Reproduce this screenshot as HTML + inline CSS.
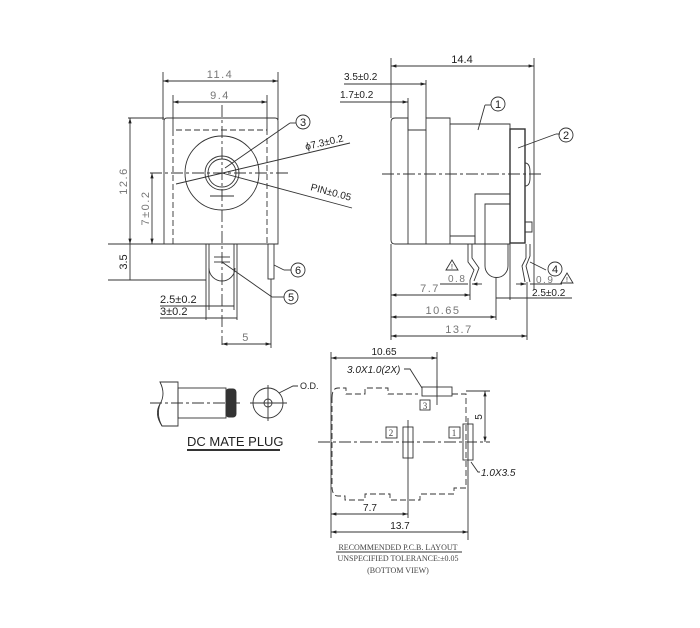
<!DOCTYPE html>
<html><head><meta charset="utf-8"><style>
html,body{margin:0;padding:0;background:#fff}
svg{display:block}
text{font-family:"Liberation Sans",sans-serif;fill:#222;stroke:none}
.m{fill:#777;letter-spacing:1.5px}
.s{font-family:"Liberation Serif",serif;fill:#444}
</style></head><body>
<svg width="700" height="628" viewBox="0 0 700 628" xmlns="http://www.w3.org/2000/svg" stroke="#333" fill="none" stroke-width="0.9">
<defs>
<marker id="a" viewBox="0 0 10 10" refX="10" refY="5" markerWidth="6" markerHeight="6" orient="auto-start-reverse"><path d="M0,2 L10,5 L0,8 z" fill="#222" stroke="none"/></marker>
</defs>
<!-- FRONT VIEW -->
<g>
<line x1="163" y1="72" x2="163" y2="120"/><line x1="278" y1="72" x2="278" y2="120"/>
<line x1="163" y1="81" x2="278" y2="81" marker-start="url(#a)" marker-end="url(#a)"/>
<text x="220" y="78" font-size="11" text-anchor="middle" class="m">11.4</text>
<line x1="173" y1="95" x2="173" y2="130"/><line x1="267" y1="95" x2="267" y2="130"/>
<line x1="173" y1="102" x2="267" y2="102" marker-start="url(#a)" marker-end="url(#a)"/>
<text x="220" y="99" font-size="11" text-anchor="middle" class="m">9.4</text>
<path d="M167,118 H275 Q278,118 278,121 V244 H164 V121 Q164,118 167,118 Z"/>
<path d="M173,244 V130 H267 V244" stroke-dasharray="6,3"/>
<circle cx="222" cy="173" r="37"/>
<circle cx="222" cy="173" r="17"/>
<circle cx="222" cy="173" r="14"/>
<line x1="210" y1="196" x2="234" y2="196"/>
<line x1="150" y1="173" x2="290" y2="173" stroke-dasharray="12,3,3,3"/>
<line x1="222" y1="105" x2="222" y2="345" stroke-dasharray="12,3,3,3"/>
<line x1="176" y1="184" x2="350" y2="143"/>
<text x="306" y="150" font-size="10" transform="rotate(-13 306 150)">ϕ7.3±0.2</text>
<line x1="222" y1="173" x2="352" y2="208"/>
<text x="310" y="190" font-size="10" transform="rotate(15 310 190)">PIN±0.05</text>
<line x1="225" y1="168" x2="290" y2="123"/><line x1="290" y1="123" x2="296" y2="123"/>
<circle cx="303" cy="122" r="7"/><text x="303" y="126" font-size="11" text-anchor="middle">3</text>
<!-- pins -->
<line x1="206" y1="244" x2="206" y2="280"/><line x1="209" y1="244" x2="209" y2="270"/>
<line x1="237" y1="244" x2="237" y2="280"/><line x1="234" y1="244" x2="234" y2="270"/>
<path d="M209,268 A13,13 0 0 0 235,268"/>
<line x1="214" y1="257" x2="230" y2="257"/><line x1="214" y1="262" x2="230" y2="262"/>
<rect x="268" y="244" width="6" height="35"/>
<line x1="274" y1="265" x2="284" y2="270"/><line x1="284" y1="270" x2="291" y2="270"/>
<circle cx="298" cy="270" r="7"/><text x="298" y="274" font-size="11" text-anchor="middle">6</text>
<line x1="222" y1="262" x2="272" y2="297"/><line x1="272" y1="297" x2="284" y2="297"/>
<circle cx="291" cy="297" r="7"/><text x="291" y="301" font-size="11" text-anchor="middle">5</text>
<!-- left dims -->
<line x1="128" y1="118" x2="164" y2="118"/><line x1="108" y1="244" x2="164" y2="244"/><line x1="108" y1="280" x2="206" y2="280"/>
<line x1="130" y1="118" x2="130" y2="244" marker-start="url(#a)" marker-end="url(#a)"/>
<text x="127" y="181" font-size="11" class="m" text-anchor="middle" transform="rotate(-90 127 181)">12.6</text>
<line x1="130" y1="244" x2="130" y2="280"/>
<text x="127" y="262" font-size="11" text-anchor="middle" transform="rotate(-90 127 262)">3.5</text>
<line x1="152" y1="173" x2="152" y2="244" marker-start="url(#a)" marker-end="url(#a)"/>
<text x="149" y="208" font-size="11" class="m" text-anchor="middle" transform="rotate(-90 149 208)">7±0.2</text>
<!-- bottom dims -->
<line x1="206" y1="280" x2="206" y2="320"/><line x1="237" y1="280" x2="237" y2="320"/>
<line x1="209" y1="270" x2="209" y2="310"/><line x1="234" y1="270" x2="234" y2="310"/>
<line x1="160" y1="306" x2="234" y2="306"/><text x="160" y="303" font-size="11">2.5±0.2</text>
<line x1="160" y1="318" x2="237" y2="318"/><text x="160" y="315" font-size="11">3±0.2</text>
<line x1="271" y1="279" x2="271" y2="348"/>
<line x1="222" y1="344" x2="271" y2="344" marker-start="url(#a)" marker-end="url(#a)"/>
<text x="246" y="341" font-size="11" class="m" text-anchor="middle">5</text>
</g>
<!-- SIDE VIEW -->
<g>
<line x1="391" y1="58" x2="391" y2="118"/><line x1="534" y1="58" x2="534" y2="290"/>
<line x1="391" y1="66" x2="534" y2="66" marker-start="url(#a)" marker-end="url(#a)"/>
<text x="462" y="63" font-size="11" text-anchor="middle">14.4</text>
<line x1="344" y1="84" x2="426" y2="84" marker-end="url(#a)"/><line x1="426" y1="80" x2="426" y2="118"/>
<text x="344" y="80" font-size="10">3.5±0.2</text>
<line x1="340" y1="102" x2="408" y2="102" marker-end="url(#a)"/><line x1="408" y1="98" x2="408" y2="130"/>
<text x="340" y="98" font-size="10">1.7±0.2</text>
<path d="M395,118 H408 V130 H426 V118 H450 V124 H510 V244 H395 Q391,244 391,240 V122 Q391,118 395,118 Z"/>
<line x1="408" y1="130" x2="408" y2="244"/><line x1="426" y1="130" x2="426" y2="244"/><line x1="450" y1="124" x2="450" y2="244"/>
<rect x="510" y="129" width="15" height="114" stroke-width="1.4"/>
<path d="M525,150 V222 H532 V232 H525"/>
<path d="M525,163 Q530,163 530,172 V178 Q530,186 525,186"/>
<path d="M475,244 V194 H510"/><path d="M485,210 V204 H510"/>
<path d="M450,236 H475 V244"/>
<path d="M485,210 V266 A11.5,11.5 0 0 0 508,266 V244"/>
<line x1="382" y1="174" x2="542" y2="174" stroke-dasharray="12,3,3,3"/>
<line x1="485" y1="105" x2="478" y2="130"/>
<line x1="485" y1="105" x2="491" y2="105"/>
<circle cx="498" cy="104" r="7"/><text x="498" y="108" font-size="11" text-anchor="middle">1</text>
<line x1="518" y1="148" x2="556" y2="134"/><line x1="556" y1="134" x2="560" y2="134"/>
<circle cx="566" cy="135" r="7"/><text x="566" y="139" font-size="11" text-anchor="middle">2</text>
<!-- pin legs -->
<path d="M468,244 V262 L474,270 L470,280"/><path d="M472,244 V258 L479,268 L474,281"/>
<path d="M526,244 V258 L522,266 L525,282"/><path d="M530,244 V256 L526,266 L530,282"/>
<line x1="530" y1="262" x2="546" y2="270"/>
<circle cx="555" cy="269" r="7"/><text x="555" y="273" font-size="11" text-anchor="middle">4</text>
<path d="M446,270 L452,260 L458,270 Z"/><text x="452" y="269" font-size="7" text-anchor="middle">!</text>
<text x="448" y="282" font-size="10" class="m">0.8</text>
<line x1="440" y1="284" x2="468" y2="284"/><line x1="472" y1="284" x2="482" y2="284" marker-start="url(#a)"/>
<path d="M561,283 L567,273 L573,283 Z"/><text x="567" y="282" font-size="7" text-anchor="middle">!</text>
<text x="536" y="283" font-size="10" class="m">0.9</text>
<line x1="516" y1="284" x2="526" y2="284" marker-end="url(#a)"/><line x1="530" y1="284" x2="562" y2="284"/>
<text x="532" y="296" font-size="10">2.5±0.2</text>
<line x1="496" y1="298" x2="572" y2="298"/>
<line x1="391" y1="244" x2="391" y2="340"/><line x1="470" y1="280" x2="470" y2="300"/>
<line x1="391" y1="295" x2="470" y2="295" marker-start="url(#a)" marker-end="url(#a)"/>
<text x="430" y="292" font-size="11" class="m" text-anchor="middle">7.7</text>
<line x1="496" y1="278" x2="496" y2="320"/><line x1="510" y1="244" x2="510" y2="300"/>
<line x1="391" y1="317" x2="496" y2="317" marker-start="url(#a)" marker-end="url(#a)"/>
<text x="443" y="314" font-size="11" class="m" text-anchor="middle">10.65</text>
<line x1="527" y1="282" x2="527" y2="340"/>
<line x1="391" y1="336" x2="527" y2="336" marker-start="url(#a)" marker-end="url(#a)"/>
<text x="459" y="333" font-size="11" class="m" text-anchor="middle">13.7</text>
</g>
<!-- DC MATE PLUG -->
<g>
<path d="M162,382 H178 V426 H162 Q156,415 160,404 Q166,394 160,382 Z"/>
<path d="M160,404 Q154,414 162,426"/>
<rect x="178" y="388" width="48" height="30"/>
<rect x="226" y="389" width="10" height="28" fill="#333" rx="3"/>
<line x1="150" y1="403" x2="240" y2="403" stroke-dasharray="12,3,3,3"/>
<circle cx="268" cy="403" r="15"/><circle cx="268" cy="403" r="4"/>
<line x1="250" y1="403" x2="287" y2="403"/><line x1="268" y1="385" x2="268" y2="421"/>
<path d="M279,393 L293,386 H298"/>
<text x="300" y="389" font-size="9">O.D.</text>
<text x="187" y="446" font-size="13">DC MATE PLUG</text>
<line x1="187" y1="450" x2="280" y2="450" stroke-width="2"/>
</g>
<!-- PCB LAYOUT -->
<g>
<line x1="331" y1="352" x2="331" y2="538"/><line x1="437" y1="352" x2="437" y2="395"/>
<line x1="331" y1="358" x2="437" y2="358" marker-start="url(#a)" marker-end="url(#a)"/>
<text x="384" y="355" font-size="10" text-anchor="middle">10.65</text>
<text x="347" y="373" font-size="10" font-style="italic">3.0X1.0(2X)</text>
<path d="M404,369 H410 L422,388"/>
<path d="M332,398 Q332,388 338,388 H346 V394 H365 V388 H388 V394 H418 M452,394 H466 V488 H454 V494 H420 V500 H390 V494 H365 V500 H345 V496 H338 Q332,496 332,486 V398" stroke-dasharray="6,3"/>
<rect x="422" y="387" width="30" height="9"/>
<rect x="420" y="400" width="10" height="10"/><text x="425" y="409" font-size="9" text-anchor="middle" class="s">3</text>
<rect x="403" y="427" width="10" height="31"/>
<rect x="386" y="427" width="11" height="11"/><text x="391" y="436" font-size="9" text-anchor="middle" class="s">2</text>
<rect x="463" y="424" width="10" height="36"/>
<rect x="449" y="427" width="11" height="11"/><text x="454" y="436" font-size="9" text-anchor="middle" class="s">1</text>
<line x1="318" y1="442" x2="490" y2="442" stroke-dasharray="12,3,3,3"/>
<line x1="437" y1="380" x2="437" y2="405"/><line x1="468" y1="418" x2="468" y2="540"/>
<line x1="408" y1="420" x2="408" y2="518"/>
<line x1="466" y1="391" x2="490" y2="391"/>
<line x1="485" y1="391" x2="485" y2="442" marker-start="url(#a)" marker-end="url(#a)"/>
<text x="482" y="417" font-size="10" text-anchor="middle" transform="rotate(-90 482 417)">5</text>
<path d="M471,462 L478,472 H480"/><text x="481" y="476" font-size="10" font-style="italic">1.0X3.5</text>
<line x1="331" y1="514" x2="408" y2="514" marker-start="url(#a)" marker-end="url(#a)"/>
<text x="370" y="511" font-size="10" text-anchor="middle">7.7</text>
<line x1="331" y1="532" x2="468" y2="532" marker-start="url(#a)" marker-end="url(#a)"/>
<text x="400" y="529" font-size="10" text-anchor="middle">13.7</text>
<text x="398" y="550" font-size="8" class="s" text-anchor="middle">RECOMMENDED P.C.B. LAYOUT</text>
<line x1="336" y1="552" x2="462" y2="552"/>
<text x="398" y="561" font-size="8" class="s" text-anchor="middle">UNSPECIFIED TOLERANCE:±0.05</text>
<text x="398" y="573" font-size="8" class="s" text-anchor="middle">(BOTTOM VIEW)</text>
</g>
</svg>
</body></html>
